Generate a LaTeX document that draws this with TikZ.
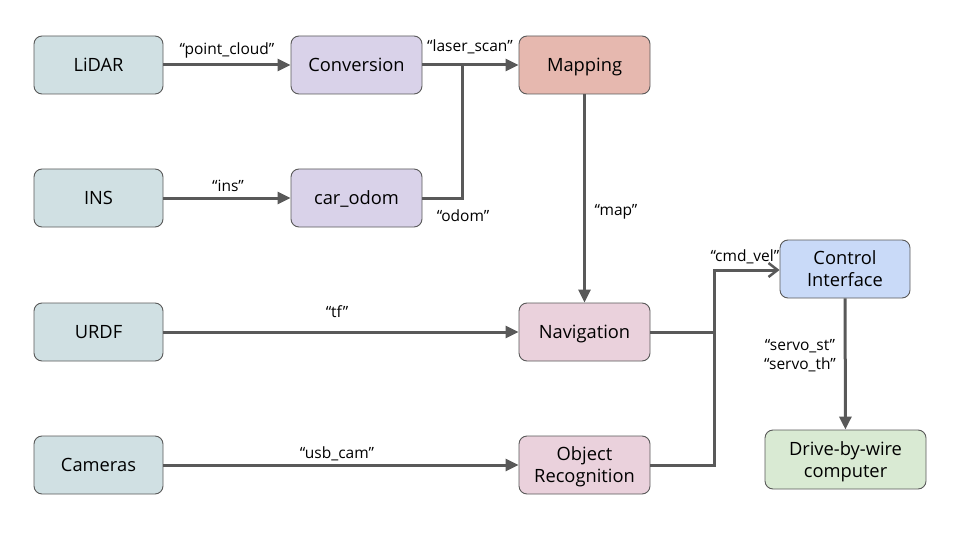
\documentclass[tikz,border=0pt]{standalone}
\usepackage{fontspec}
\setmainfont{Open Sans}
\usetikzlibrary{arrows.meta}
\definecolor{ln}{HTML}{595959}
\definecolor{cA}{HTML}{D0E0E3}
\definecolor{cB}{HTML}{D9D2E9}
\definecolor{cC}{HTML}{E6B8AF}
\definecolor{cD}{HTML}{EAD1DC}
\definecolor{cE}{HTML}{C9DAF8}
\definecolor{cF}{HTML}{D9EAD3}
\tikzset{
  box/.style={draw=ln, line width=0.9pt, rounded corners=8pt, minimum width=129pt, minimum height=58pt, align=center, inner sep=2pt, text depth=0pt, font=\fontsize{18.3}{22}\selectfont},
  conn/.style={draw=ln, line width=3pt},
  arr/.style={conn, -{Triangle[length=13pt,width=12pt]}},
  oarr/.style={conn, -{Straight Barb[length=9pt,width=14pt,line width=2.5pt]}},
  lbl/.style={font=\fontsize{15.5}{19}\selectfont, inner sep=0pt}
}
\begin{document}
\begin{tikzpicture}[x=1pt,y=-1pt]
\useasboundingbox (0,0) rectangle (960,540);
\node[box, fill=cA] (lidar) at (98.5,65) {LiDAR};
\node[box, fill=cB, minimum width=131pt] (conv) at (356.5,65) {Conversion};
\node[box, fill=cC, minimum width=131pt] (map) at (584.5,65) {Mapping};
\node[box, fill=cA] (ins) at (98.5,198) {INS};
\node[box, fill=cB, minimum width=131pt] (odom) at (356.5,198) {car\_odom};
\node[box, fill=cA] (urdf) at (98.5,332) {URDF};
\node[box, fill=cD, minimum width=131pt] (nav) at (584.5,332) {Navigation};
\node[box, fill=cA] (cam) at (98.5,465) {Cameras};
\node[box, fill=cD, minimum width=131pt] (obj) at (584.5,465) {Object\\Recognition};
\node[box, fill=cE, minimum width=130pt] (ctrl) at (845,269) {Control\\Interface};
\node[box, fill=cF, minimum width=161pt, minimum height=59pt] (dbw) at (845.5,459.5) {Drive-by-wire\\computer};
\coordinate (j1) at (462,65);
\coordinate (j2) at (714,332);
\coordinate (j3) at (714,270);

\draw[arr] (lidar) -- (conv);
\draw[arr] (conv) -- (map);
\draw[conn] (odom.east) -| (j1);
\draw[arr] (ins) -- (odom);
\draw[arr] (map) -- (nav);
\draw[arr] (urdf) -- (nav);
\draw[arr] (cam) -- (obj);
\draw[conn] (nav.east) -- (j2);
\draw[conn] (obj.east) -| (j2);
\draw[oarr] (j2) -- (j3) -- (ctrl.west |- j3);
\draw[arr] (ctrl) -- (dbw);

\node[lbl] (l1) at (227,50) {“point\_cloud”};
\node[lbl] (l2) at (470,47) {“laser\_scan”};
\node[lbl] (l3) at (228,186) {“ins”};
\node[lbl] (l4) at (463,216) {“odom”};
\node[lbl] (l5) at (616,212) {“map”};
\node[lbl] (l6) at (337,312) {“tf”};
\node[lbl] (l7) at (337,454) {“usb\_cam”};
\node[lbl] (l8) at (745,257) {“cmd\_vel”};
\node[lbl, align=center] (l9) at (800,356) {“servo\_st”\\“servo\_th”};
\end{tikzpicture}
\end{document}
